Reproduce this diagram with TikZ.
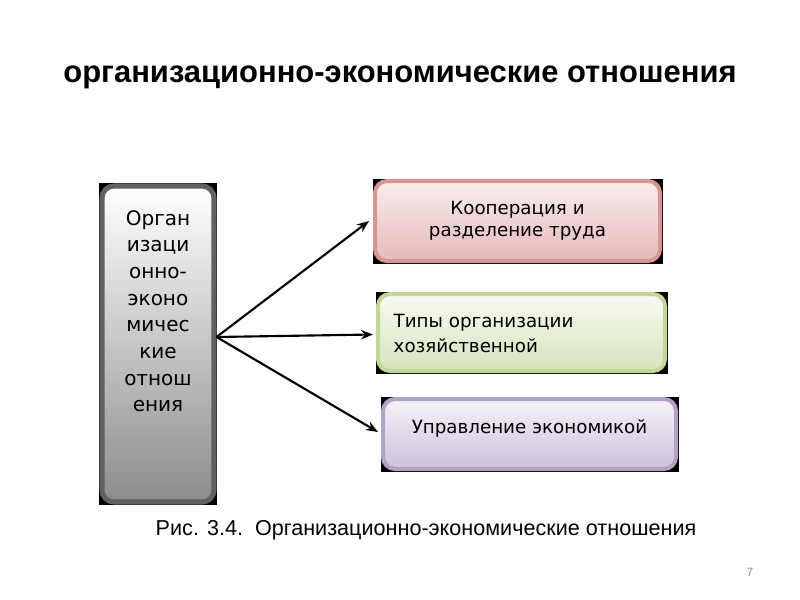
\documentclass[tikz,border=0pt]{standalone}
\usepackage{fontspec}
\setmainfont{Liberation Sans}
\newfontfamily\boxfont{DejaVu Sans}
\usetikzlibrary{calc,arrows.meta,backgrounds,positioning}

\definecolor{pinkline}{HTML}{D99694}
\definecolor{pinkfill}{HTML}{E6B9B8}
\definecolor{greenline}{HTML}{C3D69B}
\definecolor{greenfill}{HTML}{D7E4BD}
\definecolor{violetline}{HTML}{B3A2C7}
\definecolor{violetfill}{HTML}{CCC1DA}

\begin{document}
\begin{tikzpicture}[x=0.75pt, y=-0.75pt, >={Stealth[length=9pt,width=7pt]}]
\useasboundingbox (0,0) rectangle (800,600);

\tikzstyle{block}=[draw, rounded corners=9pt, line width=3pt, inner sep=0pt, font=\boxfont\fontsize{13.7}{16.5}\selectfont]
\tikzstyle{cr}=[->, line width=1.6pt]

% title
\node(H)[font=\bfseries\fontsize{23.2}{28}\selectfont] at (400,77) {организационно-экономические отношения};

% left
\node(L1)[block, draw=black!62, line width=3.8pt, top color=white, bottom color=black!45, minimum width=84pt, minimum height=237pt] at (158,344) {};
\node(L1t)[anchor=north, align=center, font=\boxfont\fontsize{15}{20}\selectfont] at ($(L1.north)+(0,22)$) {Орган\\изаци\\онно-\\эконо\\мичес\\кие\\отнош\\ения};

% right
\node(R1)[block, draw=pinkline, top color=pinkfill!25, bottom color=pinkfill, minimum width=213.75pt, minimum height=60pt, align=center] at (517.5,221) {Кооперация и\\разделение труда};
\node(R2)[block, draw=greenline, top color=greenfill!20, bottom color=greenfill, minimum width=215.25pt, minimum height=57.75pt] at (521.5,332.5) {};
\node(R2t)[anchor=west, align=left, font=\boxfont\fontsize{13.7}{19}\selectfont] at ($(R2.west)+(13,1)$) {Типы организации\\хозяйственной};
\node(R3)[block, draw=violetline, top color=violetfill!20, bottom color=violetfill, minimum width=219.75pt, minimum height=52.5pt] at (529.5,434) {};
\node(R3t)[font=\boxfont\fontsize{13.7}{16.5}\selectfont] at ($(R3.center)+(0,-6)$) {Управление экономикой};

% shadows
\begin{scope}[on background layer]
\foreach \b in {L1,R1,R2,R3}
  \fill[black] ($(\b.north west)+(-0.5,0)$) rectangle ($(\b.south east)+(0.5,0.5)$);
\end{scope}

% caption
\node(C)[font=\fontsize{16.2}{19}\selectfont] at (426,530) {Рис. 3.4.\ \ Организационно-экономические отношения};
\node(P)[text=black!45, font=\fontsize{9}{11}\selectfont] at (750,572) {7};

% arrows
\coordinate(A) at ($(L1.east)+(0,-7)$);
\draw[style=cr] (A) -- ($(R1.west)+(-4,0)$);
\draw[style=cr] (A) -- ($(R2.west)+(-3,2)$);
\draw[style=cr] (A) -- ($(R3.west)+(-3,-2)$);

\end{tikzpicture}
\end{document}
